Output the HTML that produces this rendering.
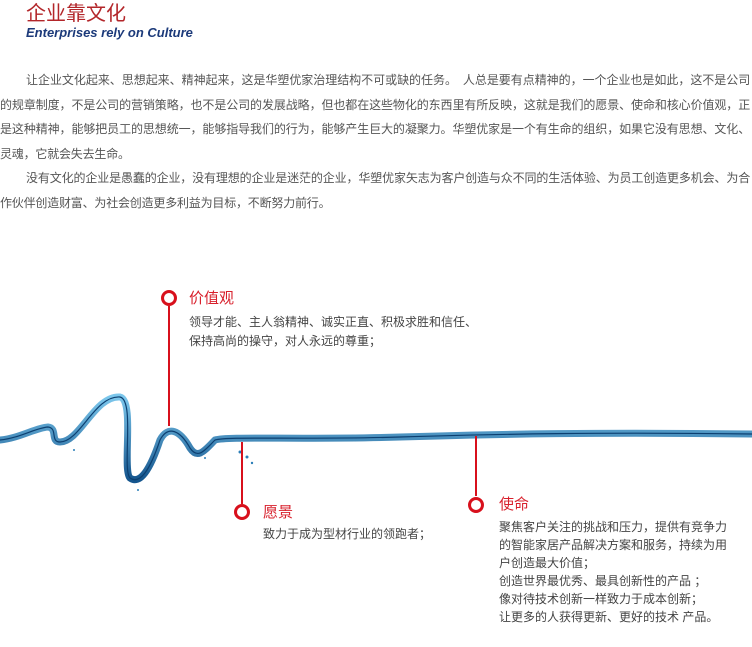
<!DOCTYPE html>
<html><head><meta charset="utf-8"><style>
body{margin:0;width:752px;height:647px;background:#fff;position:relative;overflow:hidden;font-family:"Liberation Sans","Noto Sans CJK SC",sans-serif;color:#444}
.a{position:absolute}
.t{font-size:15px;line-height:18px;color:#d8202c}
.d{font-size:12px;line-height:18px;color:#444;white-space:nowrap}
.c{position:absolute;width:10px;height:10px;border:3px solid #d8101c;border-radius:50%}
.v{position:absolute;width:2px;background:#d8101c}
p{margin:0;text-indent:26px;text-align:justify;text-align-last:left}
</style></head><body>
<div class="a" style="left:26px;top:3px;font-size:20px;line-height:22px;color:#b3262a">企业靠文化</div>
<div class="a" style="left:26px;top:25px;font-size:13px;line-height:15px;font-weight:bold;font-style:italic;color:#1c3a7a">Enterprises rely on Culture</div>
<div class="a" style="left:0;top:68px;width:750px;font-size:12px;line-height:24.5px;letter-spacing:-0.2px;color:#555">
<p>让企业文化起来、思想起来、精神起来，这是华塑优家治理结构不可或缺的任务。　人总是要有点精神的，一个企业也是如此，这不是公司的规章制度，不是公司的营销策略，也不是公司的发展战略，但也都在这些物化的东西里有所反映，这就是我们的愿景、使命和核心价值观，正是这种精神，能够把员工的思想统一，能够指导我们的行为，能够产生巨大的凝聚力。华塑优家是一个有生命的组织，如果它没有思想、文化、灵魂，它就会失去生命。</p>
<p>没有文化的企业是愚蠢的企业，没有理想的企业是迷茫的企业，华塑优家矢志为客户创造与众不同的生活体验、为员工创造更多机会、为合作伙伴创造财富、为社会创造更多利益为目标，不断努力前行。</p>
</div>
<svg class="a" style="left:0;top:0" width="752" height="647">
<defs><linearGradient id="g" x1="0" x2="0" y1="0" y2="1"><stop offset="0" stop-color="#7cc7ec"/><stop offset="1" stop-color="#15568e"/></linearGradient></defs>
<path d="M0,440 C20,438 35,428 48,427 C58,428 50,442 60,442 C80,442 95,395 120,397 C135,400 122,470 130,478 C140,485 150,470 160,440 C168,425 180,430 190,448 C198,460 205,450 215,440 C228,436 300,440 400,437 C500,434 600,432 752,434" fill="none" stroke="url(#g)" stroke-width="7" stroke-linecap="round"/>
<path d="M0,440 C20,438 35,428 48,427 C58,428 50,442 60,442 C80,442 95,395 120,397 C135,400 122,470 130,478 C140,485 150,470 160,440 C168,425 180,430 190,448 C198,460 205,450 215,440 C228,436 300,440 400,437 C500,434 600,432 752,434" fill="none" stroke="#0c3f70" stroke-width="1.2"/>
<g fill="#2c7fb8"><circle cx="240" cy="452" r="1.5"/><circle cx="247" cy="457" r="1.5"/><circle cx="252" cy="463" r="1.2"/><circle cx="74" cy="450" r="1"/><circle cx="138" cy="490" r="1"/><circle cx="205" cy="458" r="1"/></g>
</svg>
<div class="v" style="left:168px;top:306px;height:120px"></div>
<div class="c" style="left:161px;top:290px"></div>
<div class="a t" style="left:189px;top:290px">价值观</div>
<div class="a d" style="left:189px;top:313px;line-height:19px">领导才能、主人翁精神、诚实正直、积极求胜和信任、<br>保持高尚的操守，对人永远的尊重；</div>
<div class="v" style="left:241px;top:442px;height:62px"></div>
<div class="c" style="left:234px;top:504px"></div>
<div class="a t" style="left:263px;top:504px">愿景</div>
<div class="a d" style="left:263px;top:525px">致力于成为型材行业的领跑者；</div>
<div class="v" style="left:475px;top:436px;height:60px"></div>
<div class="c" style="left:468px;top:497px"></div>
<div class="a t" style="left:499px;top:496px">使命</div>
<div class="a d" style="left:499px;top:518px">聚焦客户关注的挑战和压力，提供有竞争力<br>的智能家居产品解决方案和服务，持续为用<br>户创造最大价值；<br>创造世界最优秀、最具创新性的产品 ；<br>像对待技术创新一样致力于成本创新；<br>让更多的人获得更新、更好的技术 产品。</div>
</body></html>
